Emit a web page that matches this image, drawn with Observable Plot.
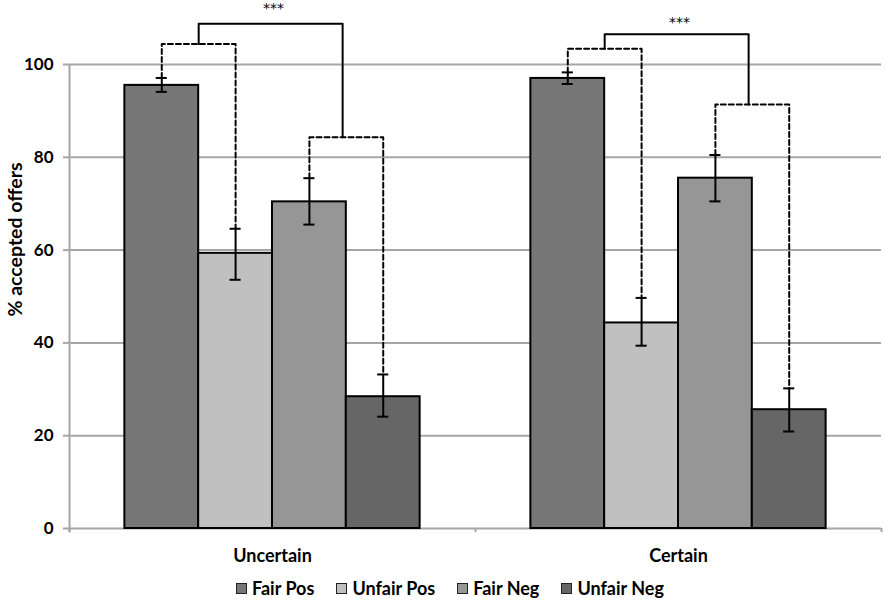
<!DOCTYPE html>
<html><head><meta charset="utf-8">
<script src="https://cdn.jsdelivr.net/npm/d3@7"></script>
<script src="https://cdn.jsdelivr.net/npm/@observablehq/plot@0.6"></script>
<style>
body{margin:0;background:#fff;font-family:Lato,"Open Sans",sans-serif;}
#chart svg{display:block;}
#legend{display:flex;justify-content:center;gap:22px;font-weight:bold;font-size:18px;padding-left:14px;margin-top:5px;color:#000;}
.item{display:flex;align-items:center;gap:5px;}
.sw{width:9px;height:9px;border:1.5px solid #222;}
</style></head><body>
<div id="chart"></div>
<div id="legend"></div>
<script>
const groups = ["Uncertain", "Certain"];
const series = ["Fair Pos", "Unfair Pos", "Fair Neg", "Unfair Neg"];
const colors = ["#777777", "#c0c0c0", "#969696", "#666666"];
const uncertainValues = [95.5, 59.3, 70.4, 28.4];
const certainValues = [97.0, 44.3, 75.5, 25.6];
const uncertainLow = [94.1, 53.6, 65.5, 24.1];
const uncertainHigh = [97.1, 64.6, 75.5, 33.2];
const certainLow = [95.8, 39.4, 70.5, 20.9];
const certainHigh = [98.3, 49.7, 80.5, 30.2];
const yTicks = [0, 20, 40, 60, 80, 100];
const yLabel = "% accepted offers";
// significance brackets (per group)
const posPairTop = [104.4, 103.4];
const negPairTop = [84.3, 91.4];
const mainTop = [108.8, 106.5];
const starsY = [112.0, 109.1];
const sigLabel = ["***", "***"];

const values = [uncertainValues, certainValues];
const lows = [uncertainLow, certainLow];
const highs = [uncertainHigh, certainHigh];

// layout in bar units: each group = 5.5 bar widths, 0.75 padding
const GW = 5.5, PAD = 0.75, CAP = 0.075;
const rows = groups.flatMap((g, gi) => series.map((s, si) => ({
  group: g, series: s, value: values[gi][si], lo: lows[gi][si], hi: highs[gi][si],
  x1: gi * GW + PAD + si, x2: gi * GW + PAD + si + 1, xc: gi * GW + PAD + si + 0.5
})));
const caps = rows.flatMap(r => [{x1: r.xc - CAP, x2: r.xc + CAP, y: r.lo}, {x1: r.xc - CAP, x2: r.xc + CAP, y: r.hi}]);

const dashed = [];
const solid = [];
const stars = [];
groups.forEach((g, gi) => {
  const c = i => gi * GW + PAD + i + 0.5;
  const hi = highs[gi];
  dashed.push(
    {id: g + "pos", x: c(0), y: hi[0]}, {id: g + "pos", x: c(0), y: posPairTop[gi]},
    {id: g + "pos", x: c(1), y: posPairTop[gi]}, {id: g + "pos", x: c(1), y: hi[1]},
    {id: g + "neg", x: c(2), y: hi[2]}, {id: g + "neg", x: c(2), y: negPairTop[gi]},
    {id: g + "neg", x: c(3), y: negPairTop[gi]}, {id: g + "neg", x: c(3), y: hi[3]}
  );
  const l = (c(0) + c(1)) / 2, r = (c(2) + c(3)) / 2 - 0.05;
  solid.push(
    {id: g, x: l, y: posPairTop[gi]}, {id: g, x: l, y: mainTop[gi]},
    {id: g, x: r, y: mainTop[gi]}, {id: g, x: r, y: negPairTop[gi]}
  );
  stars.push({x: (l + r) / 2 + 0.04, y: starsY[gi], text: sigLabel[gi]});
});

const gray = "#a6a6a6";
const chart = Plot.plot({
  width: 886, height: 572,
  marginLeft: 69, marginRight: 5, marginTop: 64, marginBottom: 44,
  x: {domain: [0, GW * groups.length], axis: null},
  y: {domain: [0, 100], axis: null},
  color: {domain: series, range: colors},
  style: {fontFamily: "Lato, 'Open Sans', sans-serif", background: "white", overflow: "visible"},
  marks: [
    Plot.gridY({ticks: yTicks, stroke: gray, strokeOpacity: 1, strokeWidth: 2}),
    Plot.axisY({ticks: yTicks, tickSize: 6, tickPadding: 10, stroke: gray, strokeWidth: 2,
      fill: "black", fontWeight: "bold", fontSize: 17, label: null}),
    Plot.text([yLabel], {frameAnchor: "left", dx: -54, dy: 20, rotate: -90, text: d => d,
      fontWeight: "bold", fontSize: 19.5, fill: "black"}),
    Plot.ruleX([0], {y1: -0.9, y2: 100, stroke: gray, strokeWidth: 2}),
    Plot.ruleX(d3.range(groups.length + 1).map(i => i * GW), {y1: 0, y2: -0.9, stroke: gray, strokeWidth: 2}),
    Plot.rect(rows, {x1: "x1", x2: "x2", y1: 0, y2: "value", fill: "series", stroke: "black", strokeWidth: 2}),
    Plot.ruleX(rows, {x: "xc", y1: "lo", y2: "hi", stroke: "black", strokeWidth: 2}),
    Plot.ruleY(caps, {x1: "x1", x2: "x2", y: "y", stroke: "black", strokeWidth: 2}),
    Plot.line(dashed, {x: "x", y: "y", z: "id", stroke: "black", strokeWidth: 2, strokeDasharray: "5,3", curve: "linear"}),
    Plot.line(solid, {x: "x", y: "y", z: "id", stroke: "black", strokeWidth: 2, curve: "linear"}),
    Plot.text(stars, {x: "x", y: "y", text: "text", fontSize: 14, fontFamily: "DejaVu Sans", fill: "black"}),
    Plot.text(groups, {x: (d, i) => i * GW + GW / 2, y: 0, dy: 28, text: d => d, fontWeight: "bold", fontSize: 18, fill: "black"})
  ]
});
document.getElementById("chart").append(chart);

const legend = document.getElementById("legend");
series.forEach((s, i) => {
  const item = document.createElement("div");
  item.className = "item";
  const sw = document.createElement("div");
  sw.className = "sw";
  sw.style.background = colors[i];
  const t = document.createElement("span");
  t.textContent = s;
  item.append(sw, t);
  legend.append(item);
});
</script>
</body></html>
